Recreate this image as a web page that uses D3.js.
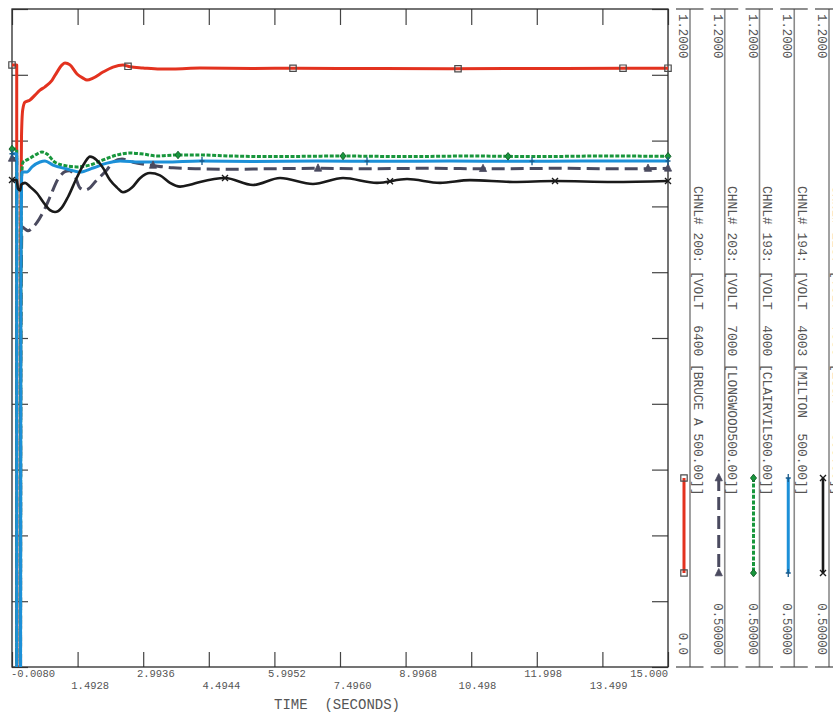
<!DOCTYPE html>
<html>
<head>
<meta charset="utf-8">
<script src="https://cdn.jsdelivr.net/npm/d3@7"></script>
<style>
body { margin: 0; background: #fff; }
svg { display: block; }
text { font-family: "Liberation Mono", "DejaVu Sans Mono", monospace; fill: #555; white-space: pre; }
</style>
</head>
<body>
<div id="chart"></div>
<script>
// time axis
const xTickValues = [-0.008, 1.4928, 2.9936, 4.4944, 5.9952, 7.4960, 8.9968, 10.498, 11.998, 13.499, 15.000];
const xTickLabels = ["-0.0080", "1.4928", "2.9936", "4.4944", "5.9952", "7.4960", "8.9968", "10.498", "11.998", "13.499", "15.000"];
const yTickValues = [0.5, 0.57, 0.64, 0.71, 0.78, 0.85, 0.92, 0.99, 1.06, 1.13, 1.2];

// channel names + ranges
const channelLabels = [
    "CHNL# 200: [VOLT  6400 [BRUCE A 500.00]]",
    "CHNL# 203: [VOLT  7000 [LONGWOOD500.00]]",
    "CHNL# 193: [VOLT  4000 [CLAIRVIL500.00]]",
    "CHNL# 194: [VOLT  4003 [MILTON  500.00]]",
    "CHNL# 223: [VOLT  7030 [ESSA    500.00]]"
];
const channelMax = [1.2, 1.2, 1.2, 1.2, 1.2];
const channelMin = [0.0, 0.5, 0.5, 0.5, 0.5];
const channelMaxLabels = ["1.2000", "1.2000", "1.2000", "1.2000", "1.2000"];
const channelMinLabels = ["0.0", "0.50000", "0.50000", "0.50000", "0.50000"];

// [time, volt pu]
const bruceA = [[-0.008,1.098],[0.1,1.098],[0.101,0],[0.183,0],[0.19,0.80],[0.21,0.97],[0.237,1.016],[0.289,1.030],
    [0.404,1.034],[0.518,1.043],[0.633,1.052],[0.747,1.058],[0.907,1.070],[1.022,1.085],[1.136,1.098],[1.205,1.1015],
    [1.319,1.098],[1.479,1.0815],[1.616,1.074],[1.708,1.0705],[1.845,1.074],[2.074,1.085],[2.303,1.094],[2.531,1.098],
    [2.692,1.0945],[2.989,1.0925],[3.378,1.0906],[3.675,1.0906],[4.293,1.0924],[5.5,1.0915],[6.5,1.092],[8,1.0915],
    [10,1.091],[12,1.0915],[14,1.092],[15,1.092]];
const longwood = [[-0.008,1.041],[0.1,1.041],[0.101,0.30],[0.183,0.30],[0.195,0.80],[0.21,0.94],[0.221,0.968],[0.29,0.966],
    [0.358,0.964],[0.45,0.967],[0.564,0.973],[0.747,0.988],[0.861,1.0],[1.044,1.019],[1.205,1.027],[1.30,1.028],
    [1.433,1.022],[1.548,1.0096],[1.662,1.0074],[1.78,1.010],[1.891,1.016],[2.166,1.029],[2.303,1.037],[2.509,1.0404],
    [2.76,1.037],[3.149,1.034],[3.675,1.031],[4.293,1.030],[5.0,1.0295],[5.8,1.030],[6.9,1.0305],[8.0,1.030],
    [9.5,1.0305],[11,1.030],[12.5,1.0305],[14,1.030],[15,1.0305]];
const clairvil = [[-0.008,1.051],[0.1,1.051],[0.101,0.35],[0.183,0.35],[0.195,0.90],[0.21,1.02],[0.244,1.037],[0.358,1.040],
    [0.564,1.0457],[0.678,1.048],[0.793,1.0457],[0.976,1.037],[1.25,1.033],[1.479,1.032],[1.776,1.034],[2.074,1.0394],
    [2.394,1.0447],[2.692,1.0468],[2.989,1.0457],[3.31,1.0436],[3.77,1.0447],[4.293,1.0447],[5.0,1.0436],[6.0,1.043],
    [7.5,1.0436],[9,1.043],[10.5,1.0436],[12,1.043],[13.5,1.0436],[15,1.0433]];
const milton = [[-0.008,1.046],[0.1,1.046],[0.101,0.30],[0.183,0.30],[0.195,0.90],[0.21,1.015],[0.221,1.0266],[0.335,1.0266],
    [0.45,1.032],[0.633,1.0372],[0.747,1.0383],[0.93,1.034],[1.25,1.0298],[1.548,1.0266],[1.845,1.0309],[2.166,1.036],
    [2.463,1.0383],[2.92,1.0372],[3.5,1.0372],[4.293,1.0383],[5.5,1.0378],[7,1.0383],[8.5,1.038],[10,1.0383],
    [11.5,1.038],[13,1.0383],[15,1.0383]];
const essa = [[-0.008,1.018],[0.1,1.018],[0.13,1.009],[0.18,1.007],[0.2,1.013],[0.29,1.015],[0.404,1.011],[0.564,1.004],
    [0.701,0.995],[0.861,0.986],[0.976,0.984],[1.136,0.989],[1.273,1.0],[1.479,1.021],[1.662,1.037],[1.776,1.043],
    [1.937,1.039],[2.074,1.031],[2.234,1.018],[2.394,1.010],[2.531,1.005],[2.737,1.010],[2.92,1.020],[3.149,1.0255],
    [3.378,1.023],[3.607,1.015],[3.836,1.011],[4.064,1.013],[4.293,1.016],[4.865,1.0202],[5.506,1.0128],[6.124,1.0202],
    [6.878,1.0138],[7.565,1.0202],[8.343,1.015],[9.029,1.0191],[9.784,1.015],[10.47,1.018],[11.455,1.016],
    [12.415,1.017],[13.742,1.016],[15.0,1.017]];

const W = 833, H = 713;
const plot = { left: 12, top: 9, right: 668, bottom: 667 };
const markerStep = 3.775;

const series = [
    { data: bruceA,   color: "#e3321f", width: 3,   dash: null,     marker: "square",   phase: 2.646 },
    { data: longwood, color: "#4a4a5f", width: 3,   dash: "13,6",   marker: "triangle", phase: 3.218 },
    { data: clairvil, color: "#18963c", width: 3,   dash: "4,1.6",  marker: "diamond",  phase: 3.79 },
    { data: milton,   color: "#1c90d8", width: 3,   dash: null,     marker: "plus",     phase: 4.339 },
    { data: essa,     color: "#1a1a1a", width: 2.6, dash: null,     marker: "cross",    phase: 4.865 }
];

const svg = d3.select("#chart").append("svg")
    .attr("width", W)
    .attr("height", H);

const x = d3.scaleLinear().domain([-0.008, 15.0]).range([plot.left, plot.right]);
const yScales = channelMin.map((mn, i) => d3.scaleLinear().domain([mn, channelMax[i]]).range([plot.bottom, plot.top]));
const yTickScale = d3.scaleLinear().domain([0.5, 1.2]).range([plot.bottom, plot.top]);

svg.append("clipPath").attr("id", "clip")
    .append("rect")
    .attr("x", plot.left).attr("y", plot.top)
    .attr("width", plot.right - plot.left).attr("height", plot.bottom - plot.top);

// ticks on all four sides, pointing inward
svg.append("g").attr("class", "tick-axis")
    .attr("transform", `translate(0,${plot.bottom})`)
    .call(d3.axisBottom(x).tickValues(xTickValues).tickSize(-15).tickFormat(""));
svg.append("g").attr("class", "tick-axis")
    .attr("transform", `translate(0,${plot.top})`)
    .call(d3.axisTop(x).tickValues(xTickValues).tickSize(-16).tickFormat(""));
svg.append("g").attr("class", "tick-axis")
    .attr("transform", `translate(${plot.left},0)`)
    .call(d3.axisLeft(yTickScale).tickValues(yTickValues).tickSize(-16).tickFormat(""));
svg.append("g").attr("class", "tick-axis")
    .attr("transform", `translate(${plot.right},0)`)
    .call(d3.axisRight(yTickScale).tickValues(yTickValues).tickSize(-16).tickFormat(""));

svg.selectAll(".tick-axis path").remove();
svg.selectAll(".tick-axis line").attr("stroke", "#444").attr("stroke-width", 1.2);

// frame
svg.append("rect")
    .attr("x", plot.left).attr("y", plot.top)
    .attr("width", plot.right - plot.left).attr("height", plot.bottom - plot.top)
    .attr("fill", "none")
    .attr("stroke", "#2a2a2a")
    .attr("stroke-width", 1.3);

// x tick labels, staggered in two rows
const charW = 6.3;
xTickLabels.forEach((lab, i) => {
    const w = lab.length * charW;
    let sx = x(xTickValues[i]) - lab.indexOf(".") * charW;
    sx = Math.max(plot.left - 1, Math.min(sx, plot.right - w));
    svg.append("text")
        .attr("x", sx)
        .attr("y", i % 2 === 0 ? 677 : 688.5)
        .style("font-size", "10.5px")
        .text(lab);
});

svg.append("text")
    .attr("x", 337)
    .attr("y", 709)
    .attr("text-anchor", "middle")
    .style("font-size", "14px")
    .text("TIME  (SECONDS)");

function markerPath(type) {
    switch (type) {
        case "square": return "M-3.2,-3.2H3.2V3.2H-3.2Z";
        case "triangle": return "M0,-4.5L3.6,2.8H-3.6Z";
        case "diamond": return "M0,-3.8L3,0L0,3.8L-3,0Z";
        case "plus": return "M0,-4V4M-2.5,0H2.5";
        case "cross": return "M-3,-3L3,3M3,-3L-3,3";
    }
}

function drawMarker(g, s, px, py) {
    const m = g.append("path")
        .attr("d", markerPath(s.marker))
        .attr("transform", `translate(${px},${py})`);
    if (s.marker === "square") {
        m.attr("fill", "none").attr("stroke", "#4a4a4a").attr("stroke-width", 1.2);
    } else if (s.marker === "triangle") {
        m.attr("fill", s.color).attr("stroke", s.color).attr("stroke-width", 0.8);
    } else if (s.marker === "diamond") {
        m.attr("fill", s.color).attr("stroke", "#0e5a25").attr("stroke-width", 0.9);
    } else if (s.marker === "plus") {
        m.attr("fill", "none").attr("stroke", "#175a8c").attr("stroke-width", 1.3);
    } else {
        m.attr("fill", "none").attr("stroke", s.color).attr("stroke-width", 1.4);
    }
}

function valueAt(data, t) {
    const i = d3.bisector(d => d[0]).right(data, t);
    if (i <= 0) return data[0][1];
    if (i >= data.length) return data[data.length - 1][1];
    const a = data[i - 1], b = data[i];
    return a[1] + (b[1] - a[1]) * (t - a[0]) / (b[0] - a[0]);
}

const plotG = svg.append("g").attr("clip-path", "url(#clip)");

series.forEach((s, i) => {
    const y = yScales[i];
    const line = d3.line()
        .x(d => x(d[0]))
        .y(d => y(d[1]))
        .curve(d3.curveMonotoneX);

    plotG.append("path")
        .datum(s.data)
        .attr("fill", "none")
        .attr("stroke", s.color)
        .attr("stroke-width", s.width)
        .attr("stroke-linejoin", "round")
        .attr("stroke-dasharray", s.dash)
        .attr("d", line);

    const tEnd = s.data[s.data.length - 1][0];
    const times = [s.data[0][0]];
    for (let t = s.phase; t < tEnd - 0.2; t += markerStep) times.push(t);
    times.push(tEnd);
    const mg = svg.append("g");
    times.forEach(t => drawMarker(mg, s, x(t), y(valueAt(s.data, t))));
});

// channel panel on the right
const colX0 = 690, colStep = 34.75;
const legTop = 478, legBottom = 573;

channelLabels.forEach((lab, i) => {
    const cx = colX0 + i * colStep;
    const s = series[i];
    const g = svg.append("g");

    g.append("line")
        .attr("x1", cx).attr("x2", cx)
        .attr("y1", plot.top).attr("y2", plot.bottom)
        .attr("stroke", "#8a8a8a").attr("stroke-width", 1.6);
    [plot.top, plot.bottom].forEach(yy => {
        g.append("line")
            .attr("x1", cx - 14).attr("x2", cx + 13.5)
            .attr("y1", yy).attr("y2", yy)
            .attr("stroke", "#444").attr("stroke-width", 1.2);
    });

    g.append("text")
        .attr("transform", `translate(${cx - 8},14) rotate(90)`)
        .attr("dominant-baseline", "central")
        .style("font-size", "12.3px")
        .text(channelMaxLabels[i]);

    g.append("text")
        .attr("transform", `translate(${cx - 8},655) rotate(90)`)
        .attr("dominant-baseline", "central")
        .attr("text-anchor", "end")
        .style("font-size", "12.3px")
        .text(channelMinLabels[i]);

    g.append("text")
        .attr("transform", `translate(${cx + 7},186) rotate(90)`)
        .attr("dominant-baseline", "central")
        .style("font-size", "12.9px")
        .text(lab);

    const lx = cx - 6;
    g.append("line")
        .attr("x1", lx).attr("x2", lx)
        .attr("y1", legTop).attr("y2", legBottom)
        .attr("stroke", s.color)
        .attr("stroke-width", s.width)
        .attr("stroke-dasharray", s.dash);
    drawMarker(g, s, lx, legTop);
    drawMarker(g, s, lx, legBottom);
});
</script>
</body>
</html>
